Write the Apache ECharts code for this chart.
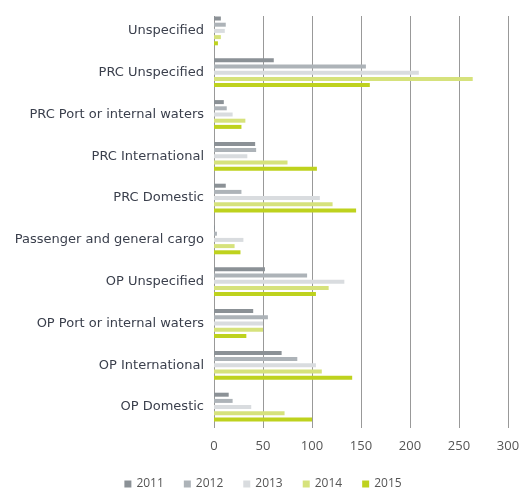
<!DOCTYPE html>
<html>
<head>
<meta charset="utf-8">
<script src="https://cdn.jsdelivr.net/npm/echarts@6/dist/echarts.min.js"></script>
<style>
  html, body { margin: 0; padding: 0; background: #fff; }
  #chart { width: 526px; height: 493px; }
</style>
</head>
<body>
<div id="chart"></div>
<script>
// categories top to bottom
const categories = [
  'Unspecified',
  'PRC Unspecified',
  'PRC Port or internal waters',
  'PRC International',
  'PRC Domestic',
  'Passenger and general cargo',
  'OP Unspecified',
  'OP Port or internal waters',
  'OP International',
  'OP Domestic'
]
const years = ['2011', '2012', '2013', '2014', '2015']
const v2011 = [7, 61, 10, 42, 12, 1, 52, 40, 69, 15]
const v2012 = [12, 155, 13, 43, 28, 3, 95, 55, 85, 19]
const v2013 = [11, 209, 19, 34, 108, 30, 133, 50, 104, 38]
const v2014 = [7, 264, 32, 75, 121, 21, 117, 50, 110, 72]
const v2015 = [4, 159, 28, 105, 145, 27, 104, 33, 141, 100]
const xTicks = [0, 50, 100, 150, 200, 250, 300]

const colors = ['#8b9196', '#adb3b8', '#d9dcdf', '#d6e27c', '#bed21e']
const values = [v2011, v2012, v2013, v2014, v2015]

const chart = echarts.init(document.getElementById('chart'), null, { renderer: 'canvas' })

chart.setOption({
  animation: false,
  grid: { left: 214, right: 18, top: 10, bottom: 65 },
  // grid lines in the original start a little below the first group
  graphic: [{
    type: 'rect',
    z: 1,
    shape: { x: 205, y: 0, width: 321, height: 16 },
    style: { fill: '#fff' }
  }],
  legend: {
    top: 473,
    left: 'center',
    itemWidth: 7,
    itemHeight: 7,
    itemGap: 20,
    icon: 'rect',
    textStyle: { fontFamily: 'Open Sans', fontSize: 12, color: '#555' },
    data: years
  },
  xAxis: {
    type: 'value',
    min: xTicks[0],
    max: xTicks[xTicks.length - 1],
    interval: 50,
    axisLine: { show: false },
    axisTick: { show: false },
    axisLabel: { color: '#555', fontFamily: 'Open Sans', fontSize: 13, margin: 12 },
    splitLine: { lineStyle: { color: '#999', width: 1 } }
  },
  yAxis: {
    type: 'category',
    inverse: true,
    data: categories,
    axisLine: { show: false },
    axisTick: { show: false },
    axisLabel: { color: '#3a3f4c', fontFamily: 'DejaVu Sans', fontSize: 13, margin: 10 }
  },
  series: years.map((y, i) => ({
    name: y,
    type: 'bar',
    data: values[i],
    barWidth: 4,
    barGap: '55%',
    itemStyle: { color: colors[i] }
  }))
})
</script>
</body>
</html>
